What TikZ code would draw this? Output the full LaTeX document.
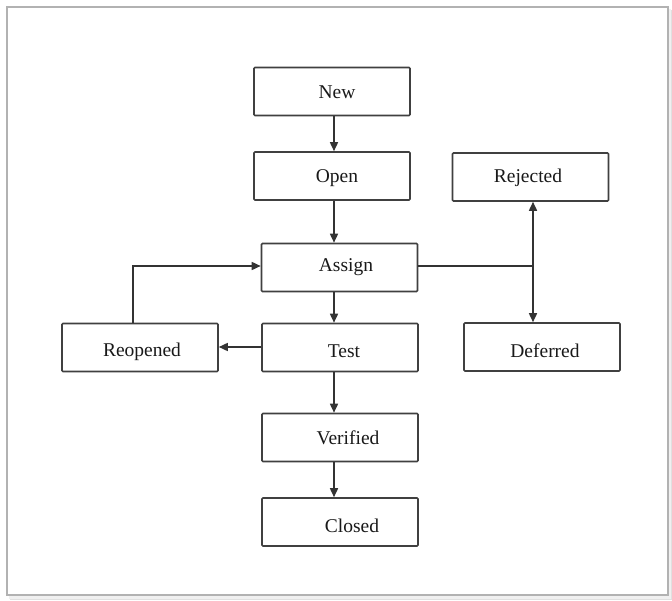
\documentclass[tikz,border=0pt]{standalone}
\usepackage{fontspec}
\setmainfont{Liberation Serif}
\usetikzlibrary{arrows.meta}
\begin{document}
\begin{tikzpicture}[x=1pt,y=-1pt,
  stbox/.style={draw=black!75,line width=1.6pt,rounded corners=1pt,minimum width=156pt,minimum height=48pt,inner sep=0pt,font=\fontsize{19}{21}\selectfont},
  txt/.style={font=\fontsize{19.5}{21}\selectfont,text=black!90,inner sep=0pt},
  conn/.style={draw=black!80,line width=1.6pt,-{Triangle[length=9pt,width=8pt]}}]
\useasboundingbox (0,0) rectangle (672,601);
% frame with shadow
\fill[black!12] (10,10) rectangle (672,600);
\fill[black!6] (9,9) rectangle (671,599);
\draw[black!30,line width=1.5pt,fill=white] (7,7) rectangle (668,595);
% boxes
\node[stbox] (new) at (332,91.5) {};
\node[stbox] (open) at (332,176) {};
\node[stbox] (assign) at (339.5,267.5) {};
\node[stbox] (test) at (340,347.5) {};
\node[stbox] (reopened) at (140,347.5) {};
\node[stbox] (rejected) at (530.5,177) {};
\node[stbox] (deferred) at (542,347) {};
\node[stbox] (verified) at (340,437.5) {};
\node[stbox] (closed) at (340,522) {};
% texts
\node[txt] at (337,92) {New};
\node[txt] at (337,178) {Open};
\node[txt] at (346,267) {Assign};
\node[txt] at (344,351) {Test};
\node[txt] at (142,352) {Reopened};
\node[txt] at (528,178) {Rejected};
\node[txt] at (545,351) {Deferred};
\node[txt] at (348,438) {Verified};
\node[txt] at (352,526) {Closed};
% connectors
\draw[conn] (new.south -| 334,0) -- (open.north -| 334,0);
\draw[conn] (open.south -| 334,0) -- (assign.north -| 334,0);
\draw[conn] (assign.south -| 334,0) -- (test.north -| 334,0);
\draw[conn] (test.south -| 334,0) -- (verified.north -| 334,0);
\draw[conn] (verified.south -| 334,0) -- (closed.north -| 334,0);
\draw[conn] (test.west |- 0,347) -- (reopened.east |- 0,347);
\draw[conn] (reopened.north -| 133,0) -- (133,266) -- (assign.west |- 0,266);
\coordinate (junc) at (533,266);
\draw[draw=black!80,line width=1.6pt] (assign.east |- junc) -- (junc);
\draw[conn] (junc) -- (rejected.south -| junc);
\draw[conn] (junc) -- (deferred.north -| junc);
\end{tikzpicture}
\end{document}
